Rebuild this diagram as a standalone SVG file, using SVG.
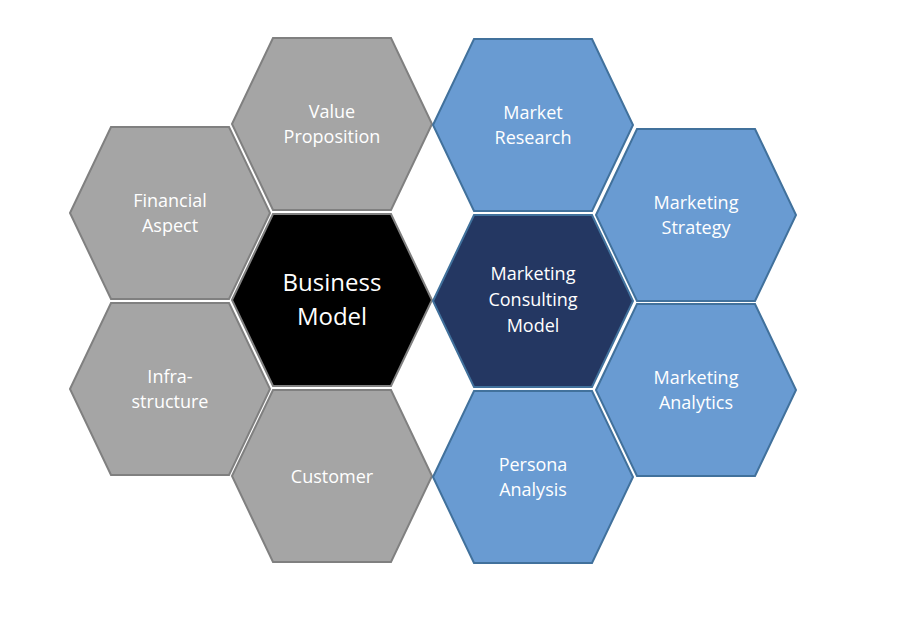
<svg xmlns="http://www.w3.org/2000/svg" width="917" height="620" viewBox="0 0 917 620">
<defs>
<style>
.g{fill:#A5A5A5;stroke:#808080;stroke-width:2}
.b{fill:#699BD2;stroke:#41719C;stroke-width:2}
.d{fill:#243762;stroke:#41719C;stroke-width:2}
.k{fill:#000;stroke:#808080;stroke-width:2}
text{fill:#fff;font-family:"Open Sans","Liberation Sans",sans-serif;font-size:18px;text-anchor:middle}
.big{font-size:24px}
</style>
<polygon id="hex" points="0,0 41,-86 159,-86 200,0 159,86 41,86"/>
</defs>
<rect width="917" height="620" fill="#fff"/>
<g id="value"><use href="#hex" x="232" y="124" class="g"/><text x="332" y="118">Value</text><text x="332" y="143">Proposition</text></g>
<g id="financial"><use href="#hex" x="70" y="213" class="g"/><text x="170" y="207">Financial</text><text x="170" y="232">Aspect</text></g>
<g id="infra"><use href="#hex" x="70" y="389" class="g"/><text x="170" y="383">Infra-</text><text x="170" y="408">structure</text></g>
<g id="customer"><use href="#hex" x="232" y="476" class="g"/><text x="332" y="483">Customer</text></g>
<g id="business"><use href="#hex" x="232" y="300" class="k"/><text class="big" x="332" y="291">Business</text><text class="big" x="332" y="325">Model</text></g>
<g id="research"><use href="#hex" x="433" y="125" class="b"/><text x="533" y="119">Market</text><text x="533" y="144">Research</text></g>
<g id="consulting"><use href="#hex" x="433" y="301" class="d"/><text x="533" y="280">Marketing</text><text x="533" y="306">Consulting</text><text x="533" y="332">Model</text></g>
<g id="persona"><use href="#hex" x="433" y="477" class="b"/><text x="533" y="471">Persona</text><text x="533" y="496">Analysis</text></g>
<g id="strategy"><use href="#hex" x="596" y="215" class="b"/><text x="696" y="209">Marketing</text><text x="696" y="234">Strategy</text></g>
<g id="analytics"><use href="#hex" x="596" y="390" class="b"/><text x="696" y="384">Marketing</text><text x="696" y="409">Analytics</text></g>
<g id="connectors"/>
</svg>
